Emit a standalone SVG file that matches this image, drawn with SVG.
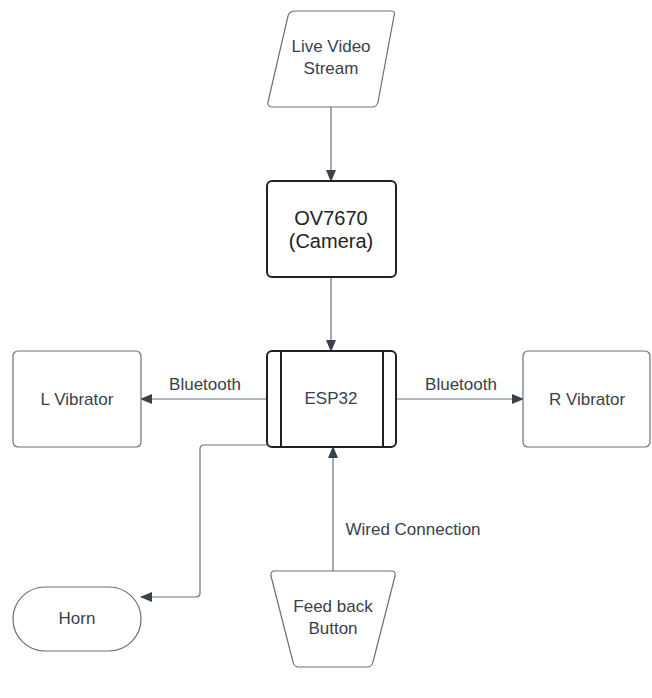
<svg xmlns="http://www.w3.org/2000/svg" width="652" height="698" viewBox="0 0 652 698">
<defs>
<marker id="arr" viewBox="0 0 12 10" refX="11" refY="5" markerWidth="12" markerHeight="10" markerUnits="userSpaceOnUse" orient="auto">
<path d="M0,0 L12,5 L0,10 Z" fill="#3a414a"/>
</marker>
<style>
.shape{fill:#fff;stroke:#6b7078;stroke-width:1.2}
.bold{fill:#fff;stroke:#1e2227;stroke-width:2}
.t{font-family:"Liberation Sans",Arial,sans-serif;font-size:17px;fill:#3a414a;text-anchor:middle}
.tb{font-family:"Liberation Sans",Arial,sans-serif;font-size:20px;fill:#1e2227;text-anchor:middle}
.c{fill:none;stroke:#6b7078;stroke-width:1.2}
</style>
</defs>
<rect width="652" height="698" fill="#fff"/>
<g id="connectors">
<path class="c" d="M331,107 L331,181" marker-end="url(#arr)"/>
<path class="c" d="M331,277 L331,351" marker-end="url(#arr)"/>
<path class="c" d="M267,399 L141,399" marker-end="url(#arr)"/>
<path class="c" d="M396,399 L523,399" marker-end="url(#arr)"/>
<path class="c" d="M267,445 L204,445 Q200,445 200,449 L200,593 Q200,597 196,597 L141,597" marker-end="url(#arr)"/>
<path class="c" d="M333,571 L333,447" marker-end="url(#arr)"/>
<text class="t" x="205" y="390">Bluetooth</text>
<text class="t" x="461" y="390">Bluetooth</text>
<text class="t" x="413" y="535">Wired Connection</text>
</g>
<g id="live-video">
<path class="shape" d="M296,11 L391,11 Q396,11 394,16 L378,102 Q377,107 372,107 L272,107 Q267,107 268,102 L288,16 Q289,11 296,11 Z"/>
<text class="t" x="331" y="52">Live Video</text>
<text class="t" x="331" y="74">Stream</text>
</g>
<g id="camera">
<rect class="bold" x="267" y="181" width="129" height="96" rx="5"/>
<text class="tb" x="331" y="225">OV7670</text>
<text class="tb" x="331" y="248">(Camera)</text>
</g>
<g id="esp32">
<rect class="bold" x="267" y="351" width="129" height="96" rx="5"/>
<line x1="281" y1="351" x2="281" y2="447" stroke="#1e2227" stroke-width="2"/>
<line x1="383" y1="351" x2="383" y2="447" stroke="#1e2227" stroke-width="2"/>
<text class="t" x="331" y="404">ESP32</text>
</g>
<g id="l-vibrator">
<rect class="shape" x="13" y="351" width="128" height="96" rx="5"/>
<text class="t" x="77" y="405">L Vibrator</text>
</g>
<g id="r-vibrator">
<rect class="shape" x="523" y="351" width="127" height="96" rx="5"/>
<text class="t" x="587" y="405">R Vibrator</text>
</g>
<g id="horn">
<rect class="shape" x="13" y="587" width="128" height="64" rx="32"/>
<text class="t" x="77" y="624">Horn</text>
</g>
<g id="feedback">
<path class="shape" d="M275,571 L391,571 Q396,571 395,576 L373,662 Q372,667 367,667 L299,667 Q294,667 293,662 L271,576 Q270,571 275,571 Z"/>
<text class="t" x="333" y="612">Feed back</text>
<text class="t" x="333" y="634">Button</text>
</g>
</svg>
